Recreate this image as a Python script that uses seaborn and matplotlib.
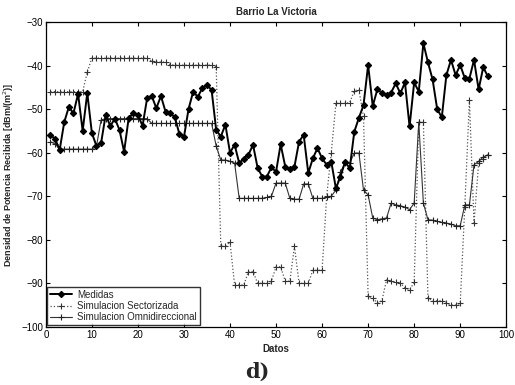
import numpy as np
import pandas as pd
import matplotlib
matplotlib.use("Agg")
import matplotlib.pyplot as plt
import seaborn as sns

# Sample index (Datos)
datos = list(range(1, 97))

# Measured received power density [dBm/m^2]
medidas = [
    -56.0, -56.8, -59.4, -53.0, -49.5, -51.0, -46.5, -55.0, -46.3, -55.5,
    -58.5, -57.8, -51.3, -53.9, -52.2, -54.8, -59.8, -52.0, -51.0, -51.3,
    -53.9, -47.5, -47.0, -49.8, -47.0, -50.6, -51.0, -51.8, -55.7, -56.4,
    -50.0, -46.0, -47.2, -45.2, -44.5, -45.6, -54.8, -56.3, -53.6, -60.0,
    -58.2, -62.4, -61.4, -60.5, -58.2, -63.5, -65.5, -65.5, -63.4, -64.4,
    -58.1, -63.2, -63.8, -63.2, -57.5, -55.9, -64.7, -61.3, -59.0, -61.3,
    -62.8, -62.1, -68.2, -65.5, -62.1, -63.6, -55.2, -52.0, -49.1, -39.9,
    -49.3, -45.5, -46.2, -46.8, -46.2, -44.1, -46.4, -43.9, -54.0, -43.9,
    -46.0, -34.9, -39.3, -43.2, -50.0, -51.9, -42.2, -38.7, -42.2, -39.9,
    -42.9, -43.0, -38.7, -45.5, -40.4, -42.5,
]

# Simulation with sectorized antenna
sectorizada = [
    -46.0, -46.0, -46.0, -46.0, -46.0, -46.0, -46.0, -46.0, -41.5, -38.3,
    -38.3, -38.3, -38.3, -38.3, -38.3, -38.3, -38.3, -38.3, -38.3, -38.3,
    -38.3, -38.3, -39.0, -39.2, -39.2, -39.2, -39.8, -39.9, -39.9, -39.9,
    -39.9, -39.9, -39.9, -39.9, -39.9, -39.9, -40.3, -81.5, -81.5, -80.5,
    -90.4, -90.4, -90.4, -87.3, -87.3, -90.0, -90.0, -90.0, -89.5, -86.2,
    -86.2, -89.5, -89.5, -81.5, -90.0, -90.0, -90.0, -87.0, -87.0, -87.0,
    -70.0, -60.0, -48.7, -48.7, -48.7, -48.5, -45.8, -45.6, -51.7, -93.0,
    -93.4, -94.5, -94.0, -89.2, -89.5, -89.8, -90.0, -91.0, -91.5, -89.8,
    -53.0, -53.0, -93.4, -94.0, -94.0, -94.0, -94.5, -95.0, -95.0, -94.6,
    -72.4, -48.0, -76.2, -62.4, -61.5, -60.5,
]

# Simulation with omnidirectional antenna
omnidireccional = [
    -57.5, -58.0, -59.2, -59.2, -59.2, -59.2, -59.2, -59.2, -59.2, -59.2,
    -58.5, -52.5, -52.2, -52.2, -52.2, -52.2, -52.2, -52.2, -52.2, -52.2,
    -52.2, -52.2, -53.3, -53.3, -53.3, -53.3, -53.3, -53.3, -53.3, -53.3,
    -53.3, -53.3, -53.3, -53.3, -53.3, -53.3, -58.5, -61.7, -61.7, -62.0,
    -62.4, -70.5, -70.5, -70.5, -70.5, -70.5, -70.5, -70.3, -70.0, -67.0,
    -67.0, -67.0, -70.5, -70.7, -70.7, -67.2, -67.2, -70.5, -70.5, -70.5,
    -70.3, -70.0, -68.6, -64.4, -62.4, -62.4, -60.1, -60.1, -68.6, -69.7,
    -75.0, -75.4, -75.2, -75.0, -71.6, -72.0, -72.2, -72.5, -73.1, -71.6,
    -53.0, -71.6, -75.4, -75.5, -75.8, -76.0, -76.2, -76.4, -76.8, -76.8,
    -72.0, -72.0, -62.8, -62.0, -61.0, -60.5,
]

x_ticks = list(range(0, 101, 10))
y_ticks = list(range(-100, -29, 10))

sns.set_style("ticks")
plt.rcParams["font.family"] = ["Liberation Sans", "DejaVu Sans"]

fig = plt.figure(figsize=(5.15, 3.85), dpi=100)
ax = fig.add_axes([0.089, 0.151, 0.894, 0.792])

sns.lineplot(x=datos, y=medidas, ax=ax, color="black", linewidth=1.4,
             marker="D", markersize=3.2, markeredgewidth=0.8,
             markeredgecolor="black", label="Medidas", zorder=4)
sns.lineplot(x=datos, y=sectorizada, ax=ax, color="#555555", linewidth=0.9,
             linestyle=":", marker="+", markersize=5, markeredgewidth=0.8,
             markeredgecolor="#333333", label="Simulacion Sectorizada", zorder=3)
sns.lineplot(x=datos, y=omnidireccional, ax=ax, color="#333333", linewidth=0.8,
             linestyle="-", marker="+", markersize=5, markeredgewidth=0.8,
             markeredgecolor="#222222", label="Simulacion Omnidireccional", zorder=3)

ax.set_xlim(0, 100)
ax.set_ylim(-100, -30)
ax.set_xticks(x_ticks)
ax.set_yticks(y_ticks)
ax.tick_params(direction="in", length=3, width=0.8, labelsize=7,
               top=True, right=True, colors="black", pad=2)
for s in ax.spines.values():
    s.set_visible(True)
    s.set_linewidth(0.9)
    s.set_color("black")

ax.set_title("Barrio La Victoria", fontsize=7, fontweight="bold", pad=5)
ax.set_xlabel("Datos", fontsize=7, fontweight="bold", labelpad=3)
ax.set_ylabel("Densidad de Potencia Recibida [dBm/(m$^2$)]", fontsize=6.5,
              fontweight="bold", labelpad=4)

leg = ax.legend(loc="lower left", fontsize=7, frameon=True, fancybox=False,
                edgecolor="black", borderpad=0.3, labelspacing=0.15,
                handlelength=2.2, handletextpad=0.6, borderaxespad=0.15)
leg.get_frame().set_linewidth(1.0)

fig.text(0.499, 0.035, "d)", fontsize=15, fontweight="bold",
         family="DejaVu Serif", ha="center", va="center")

fig.savefig("out.png", dpi=100, facecolor="white")
